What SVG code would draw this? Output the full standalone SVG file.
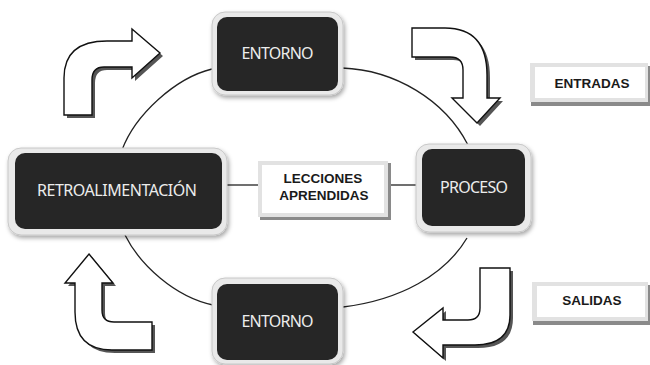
<svg xmlns="http://www.w3.org/2000/svg" width="650" height="365" viewBox="0 0 650 365">
  <defs>
    <filter id="sh" x="-10%" y="-10%" width="125%" height="130%">
      <feDropShadow dx="1.5" dy="2.5" stdDeviation="2" flood-color="#000" flood-opacity="0.35"/>
    </filter>
  </defs>
  <style>
    .outer { fill: #e9e9e9; stroke: #c8c8c8; stroke-width: 1; filter: url(#sh); }
    .inner { fill: #262626; }
    .ntext { font-family: "Noto Sans", "Liberation Sans", sans-serif; font-size: 16px; fill: #ececec; text-anchor: middle; dominant-baseline: central; }
    .lbox { fill: #e2e2e2; }
    .lin { fill: #ffffff; }
    .lshadow { fill: #8a8a8a; }
    .ltext { font-family: "Liberation Sans", Arial, sans-serif; font-weight: bold; font-size: 13.5px; fill: #1a1a1a; text-anchor: middle; dominant-baseline: central; }
    .conn { fill: none; stroke: #222; stroke-width: 1.3; }
    .arr { fill: #ffffff; stroke: #111; stroke-width: 1.4; stroke-linejoin: miter; }
    .ashadow { fill: #555; }
  </style>
  <rect width="650" height="365" fill="#ffffff"/>

  <g id="connectors">
    <path class="conn" d="M342,68 C395,70 445,100 468,145"/>
    <path class="conn" d="M467,238 C445,275 400,300 343,307"/>
    <path class="conn" d="M213,305 C175,297 140,265 125,235"/>
    <path class="conn" d="M122,150 C135,115 175,78 212,69"/>
    <line class="conn" x1="226" y1="185" x2="258" y2="185"/>
    <line class="conn" x1="390" y1="185" x2="418" y2="185"/>
  </g>

  <g id="arrows">
    <g id="arrow-top-left">
      <path class="ashadow" transform="translate(3,3)" d="M64,115 L64,78 Q64,41 107,41 L132,41 L132,29 L160,53 L132,78 L132,67 L104,67 Q92,67 92,80 L92,115 Z"/>
      <path class="arr" d="M64,115 L64,78 Q64,41 107,41 L132,41 L132,29 L160,53 L132,78 L132,67 L104,67 Q92,67 92,80 L92,115 Z"/>
    </g>
    <g id="arrow-top-right">
      <path class="ashadow" transform="translate(3,3)" d="M412,28 L445,28 Q487,28 487,75 L487,98 L500,98 L477,123 L452,98 L463,98 L463,70 Q463,57 450,57 L412,57 Z"/>
      <path class="arr" d="M412,28 L445,28 Q487,28 487,75 L487,98 L500,98 L477,123 L452,98 L463,98 L463,70 Q463,57 450,57 L412,57 Z"/>
    </g>
    <g id="arrow-bottom-right">
      <path class="ashadow" transform="translate(3,3)" d="M480,268 L510,268 L510,315 Q510,345 475,345 L443,345 L443,358 L413,332 L443,308 L443,320 L468,320 Q480,320 480,308 Z"/>
      <path class="arr" d="M480,268 L510,268 L510,315 Q510,345 475,345 L443,345 L443,358 L413,332 L443,308 L443,320 L468,320 Q480,320 480,308 Z"/>
    </g>
    <g id="arrow-bottom-left">
      <path class="ashadow" transform="translate(3,3)" d="M89,254 L113,283 L102,283 L102,310 Q102,322 114,322 L152,322 L152,350 L112,350 Q75,350 75,312 L75,283 L65,283 Z"/>
      <path class="arr" d="M89,254 L113,283 L102,283 L102,310 Q102,322 114,322 L152,322 L152,350 L112,350 Q75,350 75,312 L75,283 L65,283 Z"/>
    </g>
  </g>

  <g id="node-entorno-top">
    <rect class="outer" x="212" y="12" width="131" height="83" rx="13"/>
    <rect class="inner" x="217" y="17" width="121" height="74" rx="10"/>
    <text class="ntext" x="277.5" y="53" textLength="72">ENTORNO</text>
  </g>

  <g id="node-proceso">
    <rect class="outer" x="416" y="144" width="115" height="88" rx="13"/>
    <rect class="inner" x="422" y="149" width="103" height="77" rx="10"/>
    <text class="ntext" x="474" y="187" textLength="68">PROCESO</text>
  </g>

  <g id="node-entorno-bottom">
    <rect class="outer" x="212" y="278" width="131" height="86" rx="13"/>
    <rect class="inner" x="217" y="284" width="121" height="76" rx="10"/>
    <text class="ntext" x="277.5" y="321" textLength="72">ENTORNO</text>
  </g>

  <g id="node-retroalimentacion">
    <rect class="outer" x="8" y="148" width="219" height="87" rx="13"/>
    <rect class="inner" x="15" y="153" width="207" height="76" rx="10"/>
    <text class="ntext" x="117" y="190" textLength="160">RETROALIMENTACIÓN</text>
  </g>

  <g id="node-lecciones">
    <rect class="lshadow" x="260" y="163" width="131" height="57"/>
    <rect class="lbox" x="258" y="161" width="130" height="56"/>
    <rect class="lin" x="262" y="165" width="122" height="48"/>
    <text class="ltext" x="323" y="178">LECCIONES</text>
    <text class="ltext" x="324" y="195">APRENDIDAS</text>
  </g>

  <g id="node-entradas">
    <rect class="lshadow" x="531" y="66" width="119" height="40"/>
    <rect class="lbox" x="530" y="63" width="118" height="39"/>
    <rect class="lin" x="535" y="67" width="110" height="31"/>
    <text class="ltext" x="592" y="83">ENTRADAS</text>
  </g>

  <g id="node-salidas">
    <rect class="lshadow" x="533" y="285" width="117" height="40"/>
    <rect class="lbox" x="532" y="282" width="116" height="39"/>
    <rect class="lin" x="537" y="286" width="108" height="31"/>
    <text class="ltext" x="592" y="300">SALIDAS</text>
  </g>
</svg>
